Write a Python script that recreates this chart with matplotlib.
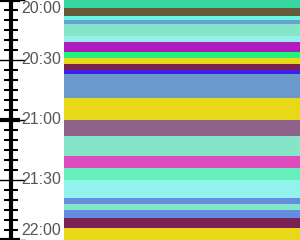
import numpy as np
import matplotlib
matplotlib.use("Agg")
import matplotlib.pyplot as plt

# band edges, minutes after 20:00
edges = [0, 4, 8, 10, 12, 18, 21, 26, 29, 32, 35, 37, 49, 60,
         68, 78, 84, 90, 99, 102, 105, 109, 114, 120]
colors = ["#35d9a0", "#655a3a", "#66f7e0", "#6aa0d2", "#85e5c8", "#92f2ea",
          "#b01cbc", "#1ef57a", "#e8d81a", "#7a2256", "#4020e8", "#6a9acc",
          "#e8d818", "#8f628c", "#85e5c8", "#dc4cbc", "#66eebb", "#92f2ec",
          "#648de0", "#85e5c8", "#648de0", "#7a2256", "#e8d818"]
tick_labels = ["20:00", "20:30", "21:00", "21:30", "22:00"]
tick_pos = [0, 30, 60, 90, 120]

starts = np.array(edges[:-1])
durs = np.diff(edges)

fig = plt.figure(figsize=(3, 2.4), dpi=100)
ax = fig.add_axes([0, 0, 1, 1])
ax.barh(starts, 236, height=durs, left=64, align="edge", color=colors, linewidth=0)
ax.set_xlim(0, 300)
ax.set_ylim(120, 0)

for s in ["top", "right", "bottom"]:
    ax.spines[s].set_visible(False)
ax.spines["left"].set_position(("data", 10.5))
ax.spines["left"].set_linewidth(3)
ax.set_xticks([])
ax.set_yticks(tick_pos)
ax.set_yticks(np.arange(0, 121, 5), minor=True)
ax.tick_params(axis="y", which="major", direction="inout", length=20, width=1, labelleft=False)
ax.tick_params(axis="y", which="minor", direction="inout", length=10, width=1.5)
# hour ticks drawn heavier
ax.hlines([0, 60, 120], 0, 20, color="black", linewidth=3)

for pos, lab in zip(tick_pos, tick_labels):
    va = "center"
    y = pos
    if pos == 0:
        va = "top"
        y = 0.6
    elif pos == 120:
        va = "bottom"
        y = 119.2
    ax.text(21, y, lab, ha="left", va=va, color="#555555",
            fontsize=11.5, family="Liberation Sans")

fig.savefig("out.png", dpi=100)
